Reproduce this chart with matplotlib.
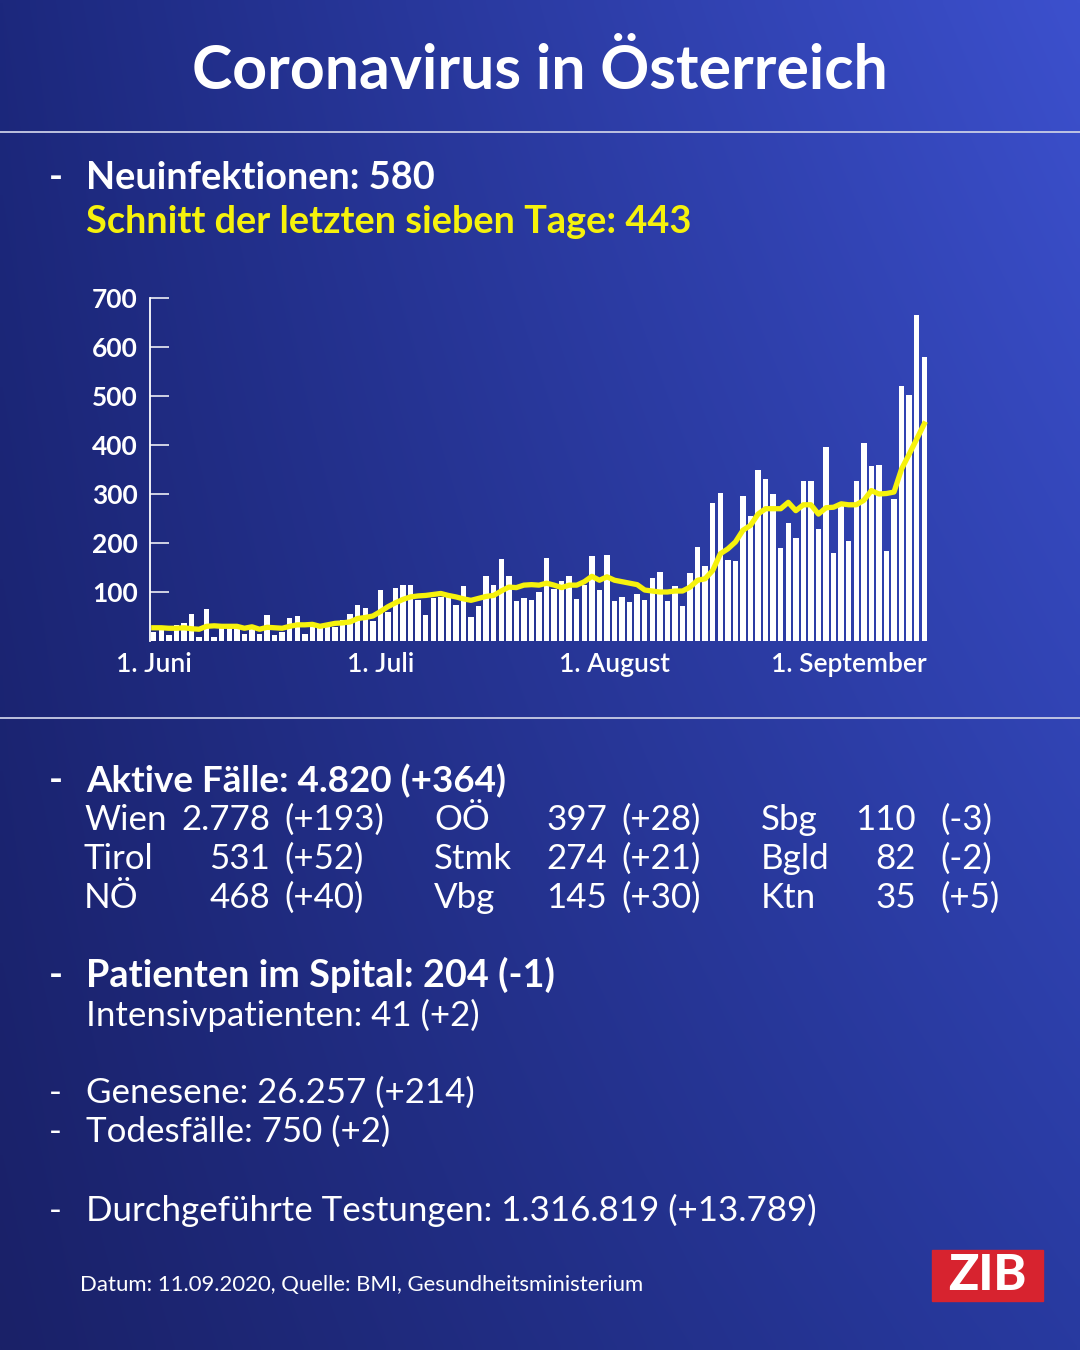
import numpy as np
import matplotlib
matplotlib.use("Agg")
import matplotlib.pyplot as plt
from matplotlib.patches import Rectangle

# ---------------- data ----------------
new_cases = [18, 22, 12, 32, 37, 55, 9, 65, 9, 26, 29, 26, 15, 26, 15, 53, 12, 19, 46, 51,
             15, 28, 28, 28, 28, 43, 56, 73, 68, 41,
             105, 60, 108, 114, 114, 83, 54, 87, 90, 90, 73, 112, 49, 71, 132, 115, 168, 133,
             81, 87, 83, 100, 169, 107, 123, 133, 85, 114, 173, 104, 175,
             81, 90, 80, 95, 83, 129, 140, 81, 112, 72, 138, 192, 154, 282, 303, 165, 163, 295,
             255, 348, 331, 300, 190, 241, 211, 327, 327, 229, 396, 180, 276,
             204, 327, 404, 358, 359, 184, 290, 520, 503, 666, 580]
avg7 = [27, 27, 26, 26, 27, 25, 24, 30, 31, 30, 30,
        30, 26, 29, 24, 28, 27, 26, 30, 33, 33,
        34, 30, 33, 36, 37, 39, 46, 48, 51, 60,
        70, 78, 85, 90, 92, 93, 95, 97, 93, 90,
        86, 83, 87, 91, 93, 102, 110, 109, 114, 115,
        114, 118, 114, 109, 114, 114, 121, 132, 124, 131,
        124, 121, 118, 115, 104, 102, 100, 100, 102, 102,
        110, 124, 127, 144, 178, 188, 202, 226, 236, 259,
        270, 270, 270, 283, 266, 278, 278, 259, 272, 273,
        280, 278, 278, 287, 307, 300, 301, 304, 351, 381,
        412, 443]
month_ticks = [0, 30, 61, 92]
month_labels = ["1. Juni", "1. Juli", "1. August", "1. September"]
y_ticks = [100, 200, 300, 400, 500, 600, 700]

title = "Coronavirus in Österreich"
head1 = "Neuinfektionen: 580"
head2 = "Schnitt der letzten sieben Tage: 443"
active_head = "Aktive Fälle: 4.820 (+364)"
regions = [["Wien", "Tirol", "NÖ"], ["OÖ", "Stmk", "Vbg"], ["Sbg", "Bgld", "Ktn"]]
region_vals = [["2.778", "531", "468"], ["397", "274", "145"], ["110", "82", "35"]]
region_diff = [["(+193)", "(+52)", "(+40)"], ["(+28)", "(+21)", "(+30)"], ["(-3)", "(-2)", "(+5)"]]
hosp_head = "Patienten im Spital: 204 (-1)"
icu_line = "Intensivpatienten: 41 (+2)"
recovered = "Genesene: 26.257 (+214)"
deaths = "Todesfälle: 750 (+2)"
tests = "Durchgeführte Testungen: 1.316.819 (+13.789)"
source = "Datum: 11.09.2020, Quelle: BMI, Gesundheitsministerium"

# ---------------- figure ----------------
W, H = 1080, 1350
plt.rcParams['font.family'] = ['Lato', 'DejaVu Sans']
fig = plt.figure(figsize=(W / 100, H / 100), dpi=100)

# gradient background
bg = fig.add_axes([0, 0, 1, 1])
tl = np.array([28, 40, 125]) / 255
tr = np.array([60, 80, 205]) / 255
bl = np.array([26, 33, 104]) / 255
br = np.array([40, 58, 160]) / 255
yy, xx = np.mgrid[0:1:200j, 0:1:200j]
img = ((1 - yy)[..., None] * ((1 - xx)[..., None] * tl + xx[..., None] * tr)
       + yy[..., None] * ((1 - xx)[..., None] * bl + xx[..., None] * br))
bg.imshow(img, extent=[0, W, H, 0], aspect='auto', interpolation='bilinear')
bg.set_xlim(0, W)
bg.set_ylim(H, 0)
bg.axis('off')

renderer = fig.canvas.get_renderer()


def put(x, yb, s, target_w=None, size=20, **kw):
    t = fig.text(x / W, 1 - yb / H, s, fontsize=size, va='baseline', **kw)
    if target_w is not None:
        w = t.get_window_extent(renderer).width
        t.set_fontsize(size * target_w / w)
    return t


white = "#ffffff"
yellow = "#f6f20c"

# title
put(W / 2, 89, title, target_w=696, color=white, weight='bold', ha='left').set_ha('center')

# separators
for ysep in (132, 718):
    bg.plot([0, W], [ysep, ysep], color="#c9cde6", lw=1.3)

# headings
bold_size = put(86, 189, head1, target_w=350, color=white, weight='bold').get_fontsize()
put(49, 189, "-", size=bold_size, color=white, weight='bold')
put(86, 233, head2, target_w=607, color=yellow, weight='bold')

# chart
ax = fig.add_axes([150 / W, 1 - 641 / H, 778 / W, 343 / H])
ax.set_facecolor('none')
x = np.arange(len(new_cases))
ax.bar(x, new_cases, width=0.72, color=white, zorder=2)
ax.plot(x, avg7, color=yellow, lw=3.8, zorder=3, solid_joinstyle='round')
ax.set_xlim(-0.5, len(new_cases) - 0.5)
ax.set_ylim(0, 700)
for s in ['top', 'right', 'bottom']:
    ax.spines[s].set_visible(False)
ax.spines['left'].set_color(white)
ax.spines['left'].set_linewidth(1.3)
ax.set_yticks(y_ticks)
ax.set_yticklabels([str(v) for v in y_ticks])
ax.tick_params(axis='y', direction='in', length=13.5, width=1.1, color=white,
               labelcolor=white, labelsize=19, pad=9)
for lab in ax.get_yticklabels():
    lab.set_fontweight('bold')
ax.set_xticks(month_ticks)
ax.set_xticklabels(month_labels)
ax.tick_params(axis='x', length=0, labelcolor=white, labelsize=19, pad=8)
for lab in ax.get_xticklabels():
    lab.set_fontweight('semibold')

# active cases
put(86, 792, active_head, target_w=421, color=white, weight='bold')
put(49, 792, "-", size=bold_size, color=white, weight='bold')

reg_size = put(86, 1221, tests, target_w=730, color=white).get_fontsize()
put(49, 1221, "-", size=reg_size, color=white)

name_x = [84, 434, 761]
num_r = [270, 607, 916]
diff_x = [284, 621, 940]
row_y = [830, 869, 908]
for c in range(3):
    for r in range(3):
        put(name_x[c], row_y[r], regions[c][r], size=reg_size, color=white)
        put(num_r[c], row_y[r], region_vals[c][r], size=reg_size, color=white, ha='right')
        put(diff_x[c], row_y[r], region_diff[c][r], size=reg_size, color=white)

# hospital
put(86, 987, hosp_head, size=bold_size, color=white, weight='bold')
put(49, 987, "-", size=bold_size, color=white, weight='bold')
put(86, 1026, icu_line, size=reg_size, color=white)

put(86, 1103, recovered, size=reg_size, color=white)
put(49, 1103, "-", size=reg_size, color=white)
put(86, 1142, deaths, size=reg_size, color=white)
put(49, 1142, "-", size=reg_size, color=white)

put(80, 1291, source, target_w=565, color=white)

# ZIB logo
bg.add_patch(Rectangle((932, 1250), 111, 51, color="#d7232f", zorder=5))
bg.text(987.5, 1276, "ZIB", color=white, weight='black', fontsize=36,
        ha='center', va='center', zorder=6)

fig.savefig("out.png", dpi=100)
